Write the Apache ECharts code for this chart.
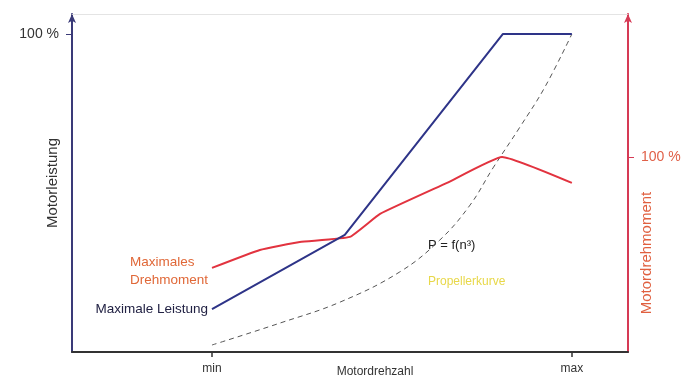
<!DOCTYPE html>
<html><head><meta charset="utf-8">
<script src="https://cdn.jsdelivr.net/npm/echarts@6/dist/echarts.min.js"></script>
<style>html,body{margin:0;padding:0;background:#fff}#c{width:684px;height:376px}</style>
</head><body><div id="c"></div>
<script>
// x: 0 = min speed, 100 = max speed
const xTicks = [0, 100];
const xTickLabels = ['min', 'max'];
const leistungX = [0, 36.9, 80.8, 100];
const leistungY = [13.5, 36.8, 100, 100];
const drehmomentX = [0, 13.3, 24.4, 38.3, 46.7, 65.3, 80.6, 100];
const drehmomentY = [43.1, 52.3, 56.4, 59.0, 70.8, 86.7, 100, 86.7];
const propellerX = [0, 18.9, 35.6, 52.2, 63.3, 71.7, 78.1, 85.6, 92.5, 100];
const propellerY = [2.2, 9.1, 15.7, 25.2, 35.2, 46.2, 57.9, 70.8, 83.3, 100];
const leftTicks = [100];
const rightTicks = [100];

const zip = (a, b) => a.map((v, i) => [v, b[i]]);
const font = 'Liberation Sans, Arial, sans-serif';
const chart = echarts.init(document.getElementById('c'));
chart.setOption({
  animation: false,
  backgroundColor: '#fff',
  grid: { left: 72, right: 56, top: 14, bottom: 24, containLabel: false, outerBoundsMode: 'none' },
  xAxis: [{
    type: 'value', min: -38.9, max: 115.6,
    axisLine: { onZero: false, lineStyle: { color: '#333', width: 2 } },
    splitLine: { show: false },
    axisTick: { show: true, customValues: xTicks, length: 5, inside: false, lineStyle: { color: '#333', width: 1.5 } },
    axisLabel: { customValues: xTicks, formatter: v => xTickLabels[xTicks.indexOf(v)], color: '#333', fontFamily: font, fontSize: 12, margin: 11 },
    name: 'Motordrehzahl', nameLocation: 'middle', nameGap: 14, nameMoveOverlap: false,
    nameTextStyle: { color: '#333', fontFamily: font, fontSize: 12, padding: [0, 0, 0, 50] }
  }, {
    type: 'value', min: -38.9, max: 115.6, position: 'top',
    axisLine: { show: true, onZero: false, lineStyle: { color: '#e4e4e4', width: 1 } },
    axisTick: { show: false }, axisLabel: { show: false }, splitLine: { show: false }
  }],
  yAxis: [{
    type: 'value', min: 0, max: 106.3, position: 'left',
    axisLine: { show: true, onZero: false, symbol: ['none', 'arrow'], symbolSize: [6, 9], lineStyle: { color: '#3a3a78', width: 2 } },
    axisTick: { show: true, customValues: leftTicks, length: 6, lineStyle: { color: '#3a3a78', width: 1 } },
    axisLabel: { customValues: leftTicks, formatter: '{value} %', color: '#333', fontFamily: font, fontSize: 14, margin: 13 },
    splitLine: { show: false },
    name: 'Motorleistung', nameLocation: 'middle', nameGap: 12, nameRotate: 90, nameMoveOverlap: false,
    nameTextStyle: { color: '#333', fontFamily: font, fontSize: 15 }
  }, {
    type: 'value', min: 0, max: 173.3, position: 'right',
    axisLine: { show: true, onZero: false, symbol: ['none', 'arrow'], symbolSize: [6, 9], lineStyle: { color: '#d63a55', width: 2 } },
    axisTick: { show: true, customValues: rightTicks, length: 6, lineStyle: { color: '#d63a55', width: 1 } },
    axisLabel: { customValues: rightTicks, formatter: '{value} %', color: '#e06048', fontFamily: font, fontSize: 14, margin: 13 },
    splitLine: { show: false }
  }],
  series: [{
    type: 'line', xAxisIndex: 0, yAxisIndex: 0, data: zip(propellerX, propellerY),
    smooth: 0.4, symbol: 'none', lineStyle: { color: '#555', width: 1, type: [5, 4] }
  }, {
    type: 'line', xAxisIndex: 0, yAxisIndex: 1, data: zip(drehmomentX, drehmomentY),
    smooth: 0.12, symbol: 'none', lineStyle: { color: '#e2333f', width: 2 },
    markPoint: { symbol: 'circle', symbolSize: 0, data: [{ coord: [drehmomentX[0], drehmomentY[0]] }],
      label: { show: true, position: [-82, -15], formatter: 'Maximales\nDrehmoment', align: 'left', verticalAlign: 'top', color: '#e06838', fontFamily: font, fontSize: 13.5, lineHeight: 18 } }
  }, {
    type: 'line', xAxisIndex: 0, yAxisIndex: 0, data: zip(leistungX, leistungY),
    symbol: 'none', lineStyle: { color: '#2e3488', width: 2 },
    markPoint: { symbol: 'circle', symbolSize: 0, data: [{ coord: [leistungX[0], leistungY[0]] }],
      label: { show: true, position: 'left', distance: 4, formatter: 'Maximale Leistung', color: '#222244', fontFamily: font, fontSize: 13.5 } }
  }],
  graphic: [
    { type: 'text', left: 428, top: 239, style: { text: 'P = f(n³)', fill: '#222', font: '13px ' + font } },
    { type: 'text', left: 428, top: 276, style: { text: 'Propellerkurve', fill: '#e8d84a', font: '12px ' + font } },
    { type: 'text', x: 647, y: 253, rotation: Math.PI / 2,
      style: { text: 'Motordrehmoment', fill: '#e06040', font: '15px ' + font, align: 'center', verticalAlign: 'middle' } }
  ]
});
</script></body></html>
